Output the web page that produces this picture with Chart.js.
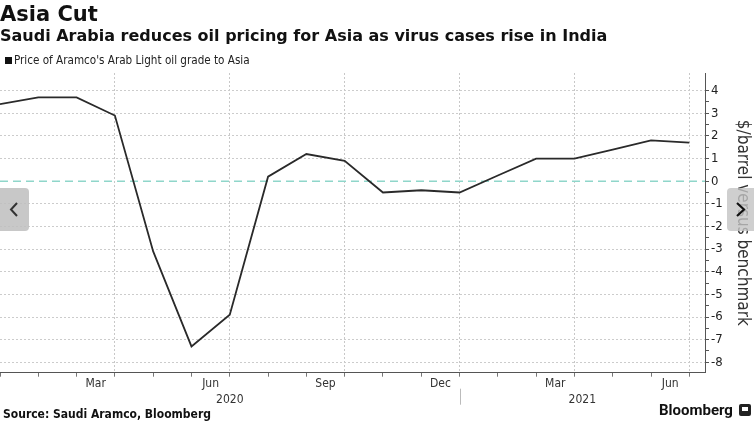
<!DOCTYPE html>
<html>
<head>
<meta charset="utf-8">
<script src="https://cdn.jsdelivr.net/npm/chart.js@4.4.0/dist/chart.umd.min.js"></script>
<style>
  html, body { margin: 0; padding: 0; background: #fff; }
  #wrap { position: relative; width: 754px; height: 421px; overflow: hidden;
          font-family: 'DejaVu Sans Condensed', 'DejaVu Sans', sans-serif; color: #111; }
  #chart { position: absolute; left: 0; top: 0; }
  .t { position: absolute; white-space: nowrap; }
  #title { left: 0; top: 2px; font-family: 'DejaVu Sans', sans-serif; font-size: 21px; font-weight: bold; }
  #sub { left: 0; top: 26px; font-family: 'DejaVu Sans', sans-serif; font-size: 16px; font-weight: bold; }
  #legend { left: 5px; top: 53px; font-size: 11.6px; color: #222; }
  #legend i { display: inline-block; width: 7px; height: 7px; background: #111; margin-right: 2px; }
  #source { left: 3px; top: 407px; font-size: 12px; font-weight: bold; }
  #brand { left: 659px; top: 401px; font-family: Roboto, 'Noto Sans', sans-serif; font-size: 15px; font-weight: bold; }
  #logo { position: absolute; left: 739px; top: 404px; width: 12px; height: 12px; background: #222; border-radius: 2px; }
  #logo b { position: absolute; left: 3px; top: 3px; width: 6px; height: 4px; background: #fff; }
  .nav { position: absolute; top: 188px; width: 29px; height: 43px; background: rgba(190,190,190,0.85); }
  #navL { left: 0; border-radius: 0 4px 4px 0; }
  #navR { left: 727px; width: 27px; border-radius: 4px 0 0 4px; background: rgba(195,195,195,0.8); }
</style>
</head>
<body>
<div id="wrap">
  <canvas id="chart" width="754" height="421"></canvas>
  <div class="t" id="title">Asia Cut</div>
  <div class="t" id="sub">Saudi Arabia reduces oil pricing for Asia as virus cases rise in India</div>
  <div class="t" id="legend"><i></i>Price of Aramco's Arab Light oil grade to Asia</div>
  <div class="t" id="source">Source: Saudi Aramco, Bloomberg</div>
  <div class="t" id="brand">Bloomberg</div>
  <div id="logo"><b></b></div>
  <div class="nav" id="navL"><svg width="29" height="43"><polyline points="17,15 11,21.5 17,28" fill="none" stroke="#333" stroke-width="2"/></svg></div>
  <div class="nav" id="navR"><svg width="27" height="43"><polyline points="10,15 17,21.5 10,28" fill="none" stroke="#111" stroke-width="2.2"/></svg></div>
</div>
<script>
// month-end values, $/barrel vs benchmark
const months = ['Dec 2019', 'Jan 2020', 'Feb 2020', 'Mar 2020', 'Apr 2020', 'May 2020', 'Jun 2020',
  'Jul 2020', 'Aug 2020', 'Sep 2020', 'Oct 2020', 'Nov 2020', 'Dec 2020',
  'Jan 2021', 'Feb 2021', 'Mar 2021', 'Apr 2021', 'May 2021', 'Jun 2021'];
const premium = [3.4, 3.7, 3.7, 2.9, -3.1, -7.3, -5.9, 0.2, 1.2, 0.9, -0.5, -0.4, -0.5,
  0.25, 1.0, 1.0, 1.4, 1.8, 1.7];

const monthLabels = ['Mar', 'Jun', 'Sep', 'Dec', 'Mar', 'Jun'];
const labelMonths = ['Mar 2020', 'Jun 2020', 'Sep 2020', 'Dec 2020', 'Mar 2021', 'Jun 2021'];
const years = ['2020', '2021'];
const yearStarts = ['Dec 2019', 'Dec 2020'];
const yLabels = [-8, -7, -6, -5, -4, -3, -2, -1, 0, 1, 2, 3, 4];

const xMax = 18.41;
const family = "'DejaVu Sans Condensed', 'DejaVu Sans', sans-serif";
const font = { family, size: 12 };
const clear = 'rgba(0,0,0,0)';

const refLines = {
  id: 'refLines',
  beforeDatasetsDraw(chart) {
    const { ctx, chartArea: a, scales: { y } } = chart;
    const py = y.getPixelForValue(0);
    ctx.save();
    ctx.strokeStyle = '#8fd6ca';
    ctx.lineWidth = 1.5;
    ctx.setLineDash([8, 5]);
    ctx.beginPath();
    ctx.moveTo(a.left, py);
    ctx.lineTo(a.right, py);
    ctx.stroke();
    ctx.restore();
  },
  afterDraw(chart) {
    const { ctx, scales: { xYear } } = chart;
    const px = Math.round(xYear.getPixelForValue(months.indexOf(yearStarts[1]))) + 0.5;
    ctx.save();
    ctx.strokeStyle = '#bbb';
    ctx.lineWidth = 1;
    ctx.beginPath();
    ctx.moveTo(px, xYear.top - 2);
    ctx.lineTo(px, xYear.bottom - 2);
    ctx.stroke();
    ctx.restore();
  }
};

new Chart(document.getElementById('chart'), {
  type: 'line',
  data: {
    datasets: [{
      label: "Price of Aramco's Arab Light oil grade to Asia",
      data: premium.map((v, i) => ({ x: i, y: v })),
      borderColor: '#2a2a2a',
      borderWidth: 1.8,
      pointRadius: 0,
      tension: 0,
      xAxisID: 'x',
      yAxisID: 'y'
    }]
  },
  options: {
    responsive: false,
    animation: false,
    layout: { padding: { top: 73, left: 0, right: 0, bottom: 14.3 } },
    plugins: { legend: { display: false }, tooltip: { enabled: false } },
    scales: {
      x: {
        type: 'linear', position: 'bottom', weight: 0, min: 0, max: xMax,
        afterBuildTicks: s => { s.ticks = months.map((m, i) => ({ value: i })); },
        afterFit: s => { s.height = 2; },
        ticks: { display: false },
        grid: {
          color: c => (c.tick && c.tick.value > 0 && c.tick.value % 3 === 0) ? '#c8c8c8' : clear,
          tickColor: '#777', tickLength: 4
        },
        border: { color: '#555', dash: [2, 2] }
      },
      xMonth: {
        type: 'linear', position: 'bottom', weight: 1, min: 0, max: xMax,
        afterBuildTicks: s => { s.ticks = labelMonths.map(m => ({ value: months.indexOf(m) - 0.5 })); },
        afterFit: s => { s.height = 16; },
        ticks: { callback: (v, i) => monthLabels[i], autoSkip: false, maxRotation: 0, padding: -6, color: '#333', font },
        grid: { display: false },
        border: { display: false }
      },
      xYear: {
        type: 'linear', position: 'bottom', weight: 2, min: 0, max: xMax,
        afterBuildTicks: s => {
          const a = months.indexOf(yearStarts[0]), b = months.indexOf(yearStarts[1]);
          s.ticks = [{ value: (a + b) / 2 }, { value: (b + xMax) / 2 }];
        },
        afterFit: s => { s.height = 16; },
        ticks: { callback: (v, i) => years[i], autoSkip: false, maxRotation: 0, padding: -6, color: '#333', font },
        grid: { display: false },
        border: { display: false }
      },
      y: {
        type: 'linear', position: 'right', min: -8.46, max: 4.78,
        afterBuildTicks: s => {
          const t = [];
          yLabels.forEach(v => { t.push({ value: v }); if (v < 4) t.push({ value: v + 0.5 }); });
          s.ticks = t;
        },
        afterFit: s => { s.width = 49; },
        ticks: { callback: v => Number.isInteger(v) ? String(v) : '', autoSkip: false, padding: 2, color: '#222', font: { family, size: 13 } },
        grid: {
          color: c => (c.tick && Number.isInteger(c.tick.value) && c.tick.value !== 0) ? '#cccccc' : clear,
          tickColor: '#555', tickLength: 4
        },
        border: { color: '#555', dash: [2, 2] },
        title: {
          display: true, text: '$/barrel versus benchmark', color: '#333',
          font: { family, size: 17 }, padding: { top: 1, bottom: 0 }
        }
      }
    }
  },
  plugins: [refLines]
});
</script>
</body>
</html>
